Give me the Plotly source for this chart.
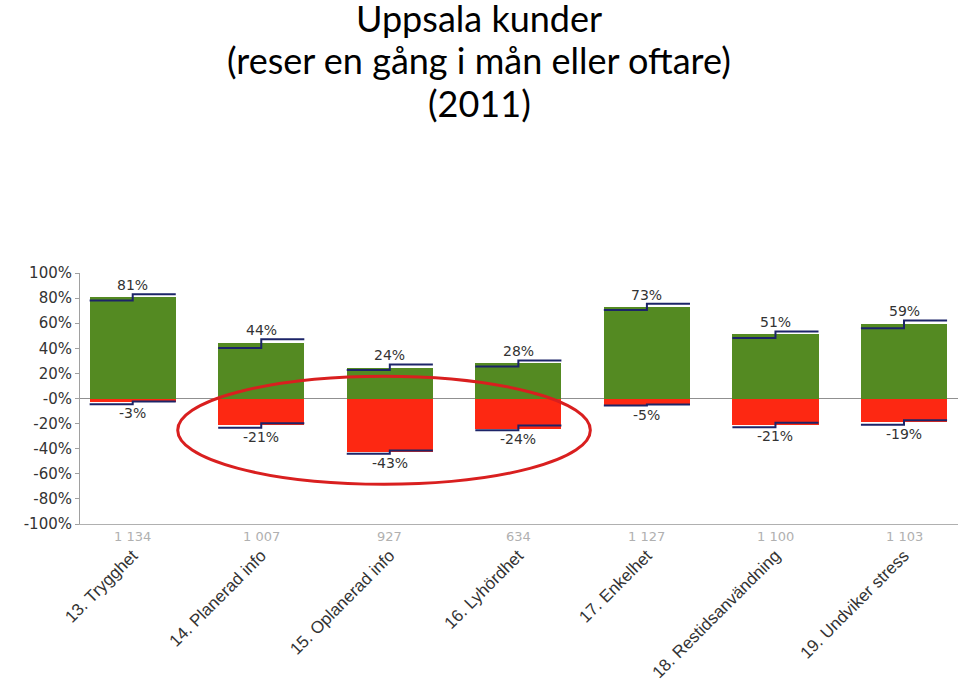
import plotly.graph_objects as go

categories = ["13. Trygghet", "14. Planerad info", "15. Oplanerad info", "16. Lyhördhet",
              "17. Enkelhet", "18. Restidsanvändning", "19. Undviker stress"]
counts = ["1 134", "1 007", "927", "634", "1 127", "1 100", "1 103"]
positive = [81, 44, 24, 28, 73, 51, 59]
negative = [-3, -21, -43, -24, -5, -21, -19]
pos_left = [78, 40.3, 22.8, 25.5, 70.6, 48.3, 56]
pos_right = [83, 47.2, 27.1, 30.3, 75.4, 53.4, 62.2]
neg_left = [-4.5, -23.4, -44.1, -25.3, -5.6, -22.9, -21]
neg_right = [-2.4, -19.7, -41.4, -21.5, -4.8, -19.4, -17.3]
ytick_vals = [100, 80, 60, 40, 20, 0, -20, -40, -60, -80, -100]
ytick_text = ["100%", "80%", "60%", "40%", "20%", "-0%", "-20%", "-40%", "-60%", "-80%", "-100%"]

GREEN = "#548a22"
RED = "#fd2812"
NAVY = "#1c2468"
FONT = "DejaVu Sans"
BW = 0.67

L, T, R, B = 80, 273, 960 - 958, 700 - 524
PW, PH = 960 - L - R, 700 - T - B

xs = list(range(len(categories)))
fig = go.Figure()
fig.add_trace(go.Bar(x=xs, y=positive, marker_color=GREEN, width=BW, marker_line_width=0))
fig.add_trace(go.Bar(x=xs, y=negative, marker_color=RED, width=BW, marker_line_width=0))

h = BW / 2
for i in xs:
    for lv, rv in ((pos_left[i], pos_right[i]), (neg_left[i], neg_right[i])):
        fig.add_trace(go.Scatter(
            x=[i - h, i, i, i + h], y=[lv, lv, rv, rv], mode="lines",
            line=dict(color=NAVY, width=2), hoverinfo="skip"))

annotations = []
for i in xs:
    annotations.append(dict(x=i, y=max(positive[i], pos_right[i]), xref="x", yref="y",
                            text=f"{positive[i]}%", showarrow=False, yanchor="bottom", yshift=-1,
                            font=dict(family=FONT, size=14, color="#333333")))
    annotations.append(dict(x=i, y=min(negative[i], neg_left[i]), xref="x", yref="y",
                            text=f"{negative[i]}%", showarrow=False, yanchor="top", yshift=1,
                            font=dict(family=FONT, size=14, color="#333333")))
    annotations.append(dict(x=i, y=-0.01, xref="x", yref="paper", text=counts[i],
                            showarrow=False, yanchor="top",
                            font=dict(family=FONT, size=13, color="#b0b0b0")))

title_lines = ["Uppsala kunder", "(reser en gång i mån eller oftare)", "(2011)"]
title_y = [18, 60, 103]
for t, yy in zip(title_lines, title_y):
    annotations.append(dict(x=(479 - L) / PW, y=(T + PH - yy) / PH, xref="paper", yref="paper",
                            text=t, showarrow=False, xanchor="center", yanchor="middle",
                            font=dict(family="Lato", size=36, color="#000000")))

fig.update_layout(
    width=960, height=700,
    margin=dict(l=L, r=R, t=T, b=B),
    paper_bgcolor="white", plot_bgcolor="white",
    barmode="overlay", showlegend=False, bargap=0,
    annotations=annotations,
    shapes=[dict(type="circle", xref="x", yref="y", x0=0.35, x1=3.56, y0=-68.3, y1=17.8,
                 line=dict(color="#d91f1f", width=3))],
    xaxis=dict(range=[-0.41, 6.42], tickmode="array", tickvals=xs, ticktext=categories,
               tickangle=-45, ticklabelstandoff=14, showgrid=False, zeroline=False,
               showline=True, linecolor="#b0b0b0", linewidth=1, ticks="",
               tickfont=dict(family="Liberation Sans", size=17, color="#333333"),
               automargin=False),
    yaxis=dict(range=[-100, 100], tickmode="array", tickvals=ytick_vals, ticktext=ytick_text,
               showgrid=False, zeroline=True, zerolinecolor="#909090", zerolinewidth=1,
               showline=True, linecolor="#a0a0a0", linewidth=1, ticks="outside",
               ticklen=4, tickcolor="#a0a0a0",
               tickfont=dict(family=FONT, size=15, color="#333333"), automargin=False),
)
fig.write_html("out.html", config={"displayModeBar": False},
               post_script="document.body.style.margin='0px';document.body.style.padding='0px';")
